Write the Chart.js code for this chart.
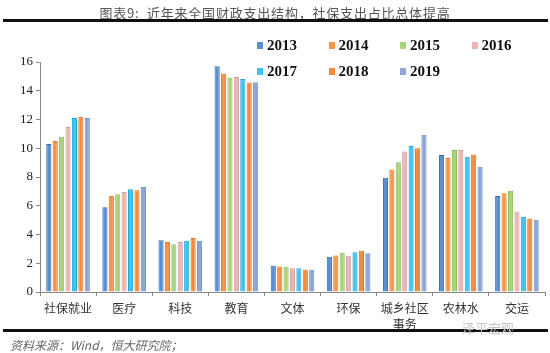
<!DOCTYPE html>
<html>
<head>
<meta charset="utf-8">
<script src="https://cdn.jsdelivr.net/npm/chart.js@4/dist/chart.umd.min.js"></script>
<style>
  body { margin: 0; background: #fff; }
  #wrap { position: relative; width: 550px; height: 353px; overflow: hidden; }
  #chart { position: absolute; left: 0; top: 0; }
  .title { position: absolute; left: 0; width: 550px; top: 3px; text-align: center; letter-spacing: 0.8px;
    font: 13px "Noto Sans CJK SC", sans-serif; color: #555; white-space: pre; }
  .rule { position: absolute; left: 3px; width: 545px; height: 3px; background: #111; }
  .source { position: absolute; left: 10px; top: 336px; font: italic 12px "Noto Sans CJK SC", sans-serif; color: #666; }
  .mark { position: absolute; left: 462px; top: 318px; font: 13px "Noto Sans CJK SC", sans-serif; color: #c4c4c4; }
  #legend { position: absolute; left: 257px; top: 36px; width: 290px; }
  .item { position: absolute; font: bold 15px "Liberation Serif", serif; color: #111; line-height: 18px; }
  .item i { display: inline-block; width: 6px; height: 7px; margin-right: 4px; vertical-align: 1px; }
</style>
</head>
<body>
<div id="wrap">
  <canvas id="chart" width="550" height="353"></canvas>
  <div class="title">图表9:  近年来全国财政支出结构，社保支出占比总体提高</div>
  <div class="rule" style="top:19px"></div>
  <div id="legend"></div>
  <div class="rule" style="top:329px"></div>
  <div class="source">资料来源：Wind，恒大研究院；</div>
  <div class="mark">泽平宏观</div>
</div>
<script>
// 财政支出结构（占比，%）
var categories = ['社保就业', '医疗', '科技', '教育', '文体', '环保', ['城乡社区', '事务'], '农林水', '交运'];
var years = ['2013', '2014', '2015', '2016', '2017', '2018', '2019'];

var v2013 = [10.3, 5.9, 3.6, 15.7, 1.83, 2.45, 7.95, 9.53, 6.68];
var v2014 = [10.5, 6.7, 3.47, 15.2, 1.78, 2.54, 8.53, 9.32, 6.87];
var v2015 = [10.8, 6.8, 3.33, 14.9, 1.76, 2.73, 9.02, 9.87, 7.05];
var v2016 = [11.47, 6.96, 3.47, 14.95, 1.66, 2.52, 9.78, 9.87, 5.6];
var v2017 = [12.1, 7.14, 3.56, 14.82, 1.66, 2.77, 10.15, 9.41, 5.23];
var v2018 = [12.2, 7.07, 3.75, 14.57, 1.57, 2.87, 10.0, 9.57, 5.11];
var v2019 = [12.1, 7.3, 3.56, 14.6, 1.55, 2.7, 10.94, 8.72, 5.02];

var yTicks = [0, 2, 4, 6, 8, 10, 12, 14, 16];

var series = [v2013, v2014, v2015, v2016, v2017, v2018, v2019];
var fills = ['#5b8fd0', '#f79646', '#a9d47c', '#e9b6b5', '#3cc5f1', '#f58b3b', '#8ea6d4'];
var edges = ['#3a6aa8', '#e07b2a', '#8cbd5c', '#d69c9c', '#1fa8d8', '#e3772a', '#7790c0'];

var datasets = series.map(function(vals, i) {
  return {
    label: years[i],
    data: vals,
    backgroundColor: fills[i],
    borderColor: edges[i],
    borderWidth: 1,
    categoryPercentage: 0.8,
    barPercentage: 0.8
  };
});

// legend: 4 in first row, 3 in second
var legend = document.getElementById('legend');
years.forEach(function(y, i) {
  var el = document.createElement('div');
  el.className = 'item';
  el.style.left = (i % 4) * 71.5 + 'px';
  el.style.top = Math.floor(i / 4) * 25.5 + 'px';
  el.innerHTML = '<i style="background:' + fills[i] + '"></i>' + y;
  legend.appendChild(el);
});

var ctx = document.getElementById('chart');
var myChart = new Chart(ctx, {
  type: 'bar',
  data: { labels: categories, datasets: datasets },
  options: {
    responsive: false,
    animation: false,
    devicePixelRatio: 1,
    layout: { padding: { top: 62, right: 5, bottom: 0, left: 0 } },
    plugins: { legend: { display: false }, tooltip: { enabled: false } },
    scales: {
      x: {
        offset: true,
        grid: { display: true, offset: true, drawOnChartArea: false, tickLength: 4, color: '#888' },
        border: { color: '#888' },
        ticks: { color: '#333', padding: 5, font: { family: '"Noto Sans CJK SC", sans-serif', size: 12, lineHeight: 1.3 }, maxRotation: 0 },
        afterFit: function(s) { s.height = 61; }
      },
      y: {
        min: 0,
        max: 16,
        afterBuildTicks: function(s) { s.ticks = yTicks.map(function(v) { return { value: v }; }); },
        grid: { drawOnChartArea: false, tickLength: 4, color: '#888' },
        border: { color: '#888' },
        ticks: { color: '#222', padding: 3, font: { family: '"Liberation Serif", serif', size: 13 } },
        afterFit: function(s) { s.width = 40; }
      }
    }
  }
});
</script>
</body>
</html>
